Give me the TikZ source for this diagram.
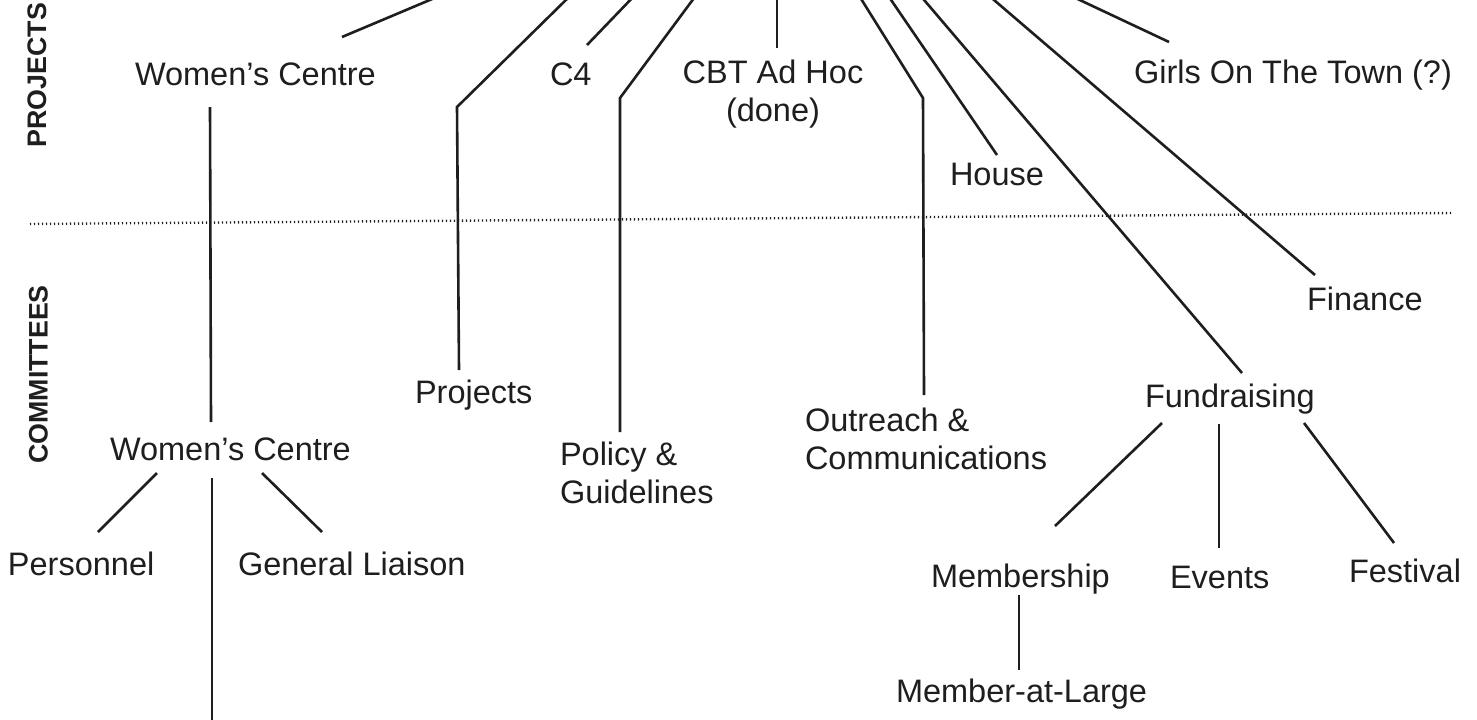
\documentclass[tikz,border=0pt]{standalone}
\usepackage{fontspec}
\setmainfont{Liberation Sans}
\begin{document}
\begin{tikzpicture}[x=0.5pt,y=-0.5pt,
  lbl/.style={inner sep=0pt,outer sep=0pt,text=ink,font=\fontsize{16.25}{19}\selectfont},
  side/.style={inner sep=0pt,outer sep=0pt,text=ink,rotate=90,font=\fontsize{13.4}{15}\selectfont\bfseries},
  conn/.style={draw=ink,line width=1.3pt},
  sep/.style={draw=ink,line width=1.2pt,dash pattern=on 0.6pt off 1.4pt}]
\definecolor{ink}{HTML}{1E1E1E}
\useasboundingbox (0,0) rectangle (1477,719);
\fill[white] (0,0) rectangle (1477,719);
\clip (0,0) rectangle (1477,719);

% side labels
\node[side] (projlbl) at (37,75) {PROJECTS};
\node[side] (commlbl) at (38.5,374.5) {COMMITTEES};

% separator
\coordinate (sepL) at (30,224);
\coordinate (sepR) at (1452,213);
\draw[sep] (sepL) -- (sepR);

% project nodes
\node[lbl,anchor=base west] (wcp) at (135,85) {Women's Centre};
\node[lbl,anchor=base west] (c4) at (550,85) {C4};
\node[lbl,anchor=north,align=center] (cbt) at (773,60) {CBT Ad Hoc\\(done)};
\node[lbl,anchor=base west] (house) at (950,185) {House};
\node[lbl,anchor=base west] (girls) at (1134,83) {Girls On The Town (?)};

% committee nodes
\node[lbl,anchor=base west] (projc) at (415,403) {Projects};
\node[lbl,anchor=base west] (wcc) at (110,460) {Women's Centre};
\node[lbl,anchor=north west,align=left] (policy) at (560,442) {Policy \&\\Guidelines};
\node[lbl,anchor=north west,align=left] (outreach) at (805,408) {Outreach \&\\Communications};
\node[lbl,anchor=base west] (finance) at (1307,310) {Finance};
\node[lbl,anchor=base west] (fund) at (1145,407) {Fundraising};
\node[lbl,anchor=base west] (pers) at (8,575) {Personnel};
\node[lbl,anchor=base west] (genl) at (238,575) {General Liaison};
\node[lbl,anchor=base west] (memb) at (931,587) {Membership};
\node[lbl,anchor=base west] (events) at (1170,588) {Events};
\node[lbl,anchor=base west] (fest) at (1349,582) {Festival};
\node[lbl,anchor=base west] (mal) at (896,702) {Member-at-Large};

% connector end points
\coordinate (wcp-in) at (342,37);   \coordinate (wcp-top) at (444,-6);
\coordinate (projc-in) at (459,370); \coordinate (projc-bend) at (457,107); \coordinate (projc-top) at (572,-6);
\coordinate (c4-in) at (587,45);    \coordinate (c4-top) at (636,-6);
\coordinate (pol-in) at (620,432);  \coordinate (pol-bend) at (620,98);  \coordinate (pol-top) at (697,-6);
\coordinate (cbt-in) at (777,48);   \coordinate (cbt-top) at (777,-6);
\coordinate (out-in) at (924,395);  \coordinate (out-bend) at (923,98);  \coordinate (out-top) at (858,-6);
\coordinate (house-in) at (997,155); \coordinate (house-top) at (887,-6);
\coordinate (fund-in) at (1242,373); \coordinate (fund-top) at (919,-6);
\coordinate (fin-in) at (1315,275); \coordinate (fin-top) at (987,-6);
\coordinate (girls-in) at (1169,42); \coordinate (girls-top) at (1067,-6);

\coordinate (wcp-out) at (210,107); \coordinate (wcc-in) at (211,422);
\coordinate (wcc-o1) at (157,473);  \coordinate (pers-in) at (98,532);
\coordinate (wcc-o2) at (262,473);  \coordinate (genl-in) at (322,532);
\coordinate (wcc-o3) at (212,478);  \coordinate (wcc-down) at (212,730);
\coordinate (fund-o1) at (1162,423); \coordinate (memb-in) at (1055,526);
\coordinate (fund-o2) at (1219,424); \coordinate (events-in) at (1219,548);
\coordinate (fund-o3) at (1304,423); \coordinate (fest-in) at (1394,543);
\coordinate (memb-o) at (1019,595); \coordinate (mal-in) at (1019,670);

% connectors from the (cut off) parent
\draw[conn] (wcp-top) -- (wcp-in);
\draw[conn] (projc-top) -- (projc-bend) -- (projc-in);
\draw[conn] (c4-top) -- (c4-in);
\draw[conn] (pol-top) -- (pol-bend) -- (pol-in);
\draw[conn] (cbt-top) -- (cbt-in);
\draw[conn] (out-top) -- (out-bend) -- (out-in);
\draw[conn] (house-top) -- (house-in);
\draw[conn] (fund-top) -- (fund-in);
\draw[conn] (fin-top) -- (fin-in);
\draw[conn] (girls-top) -- (girls-in);

% lower connectors
\draw[conn] (wcp-out) -- (wcc-in);
\draw[conn] (wcc-o1) -- (pers-in);
\draw[conn] (wcc-o2) -- (genl-in);
\draw[conn] (wcc-o3) -- (wcc-down);
\draw[conn] (fund-o1) -- (memb-in);
\draw[conn] (fund-o2) -- (events-in);
\draw[conn] (fund-o3) -- (fest-in);
\draw[conn] (memb-o) -- (mal-in);
\end{tikzpicture}
\end{document}
